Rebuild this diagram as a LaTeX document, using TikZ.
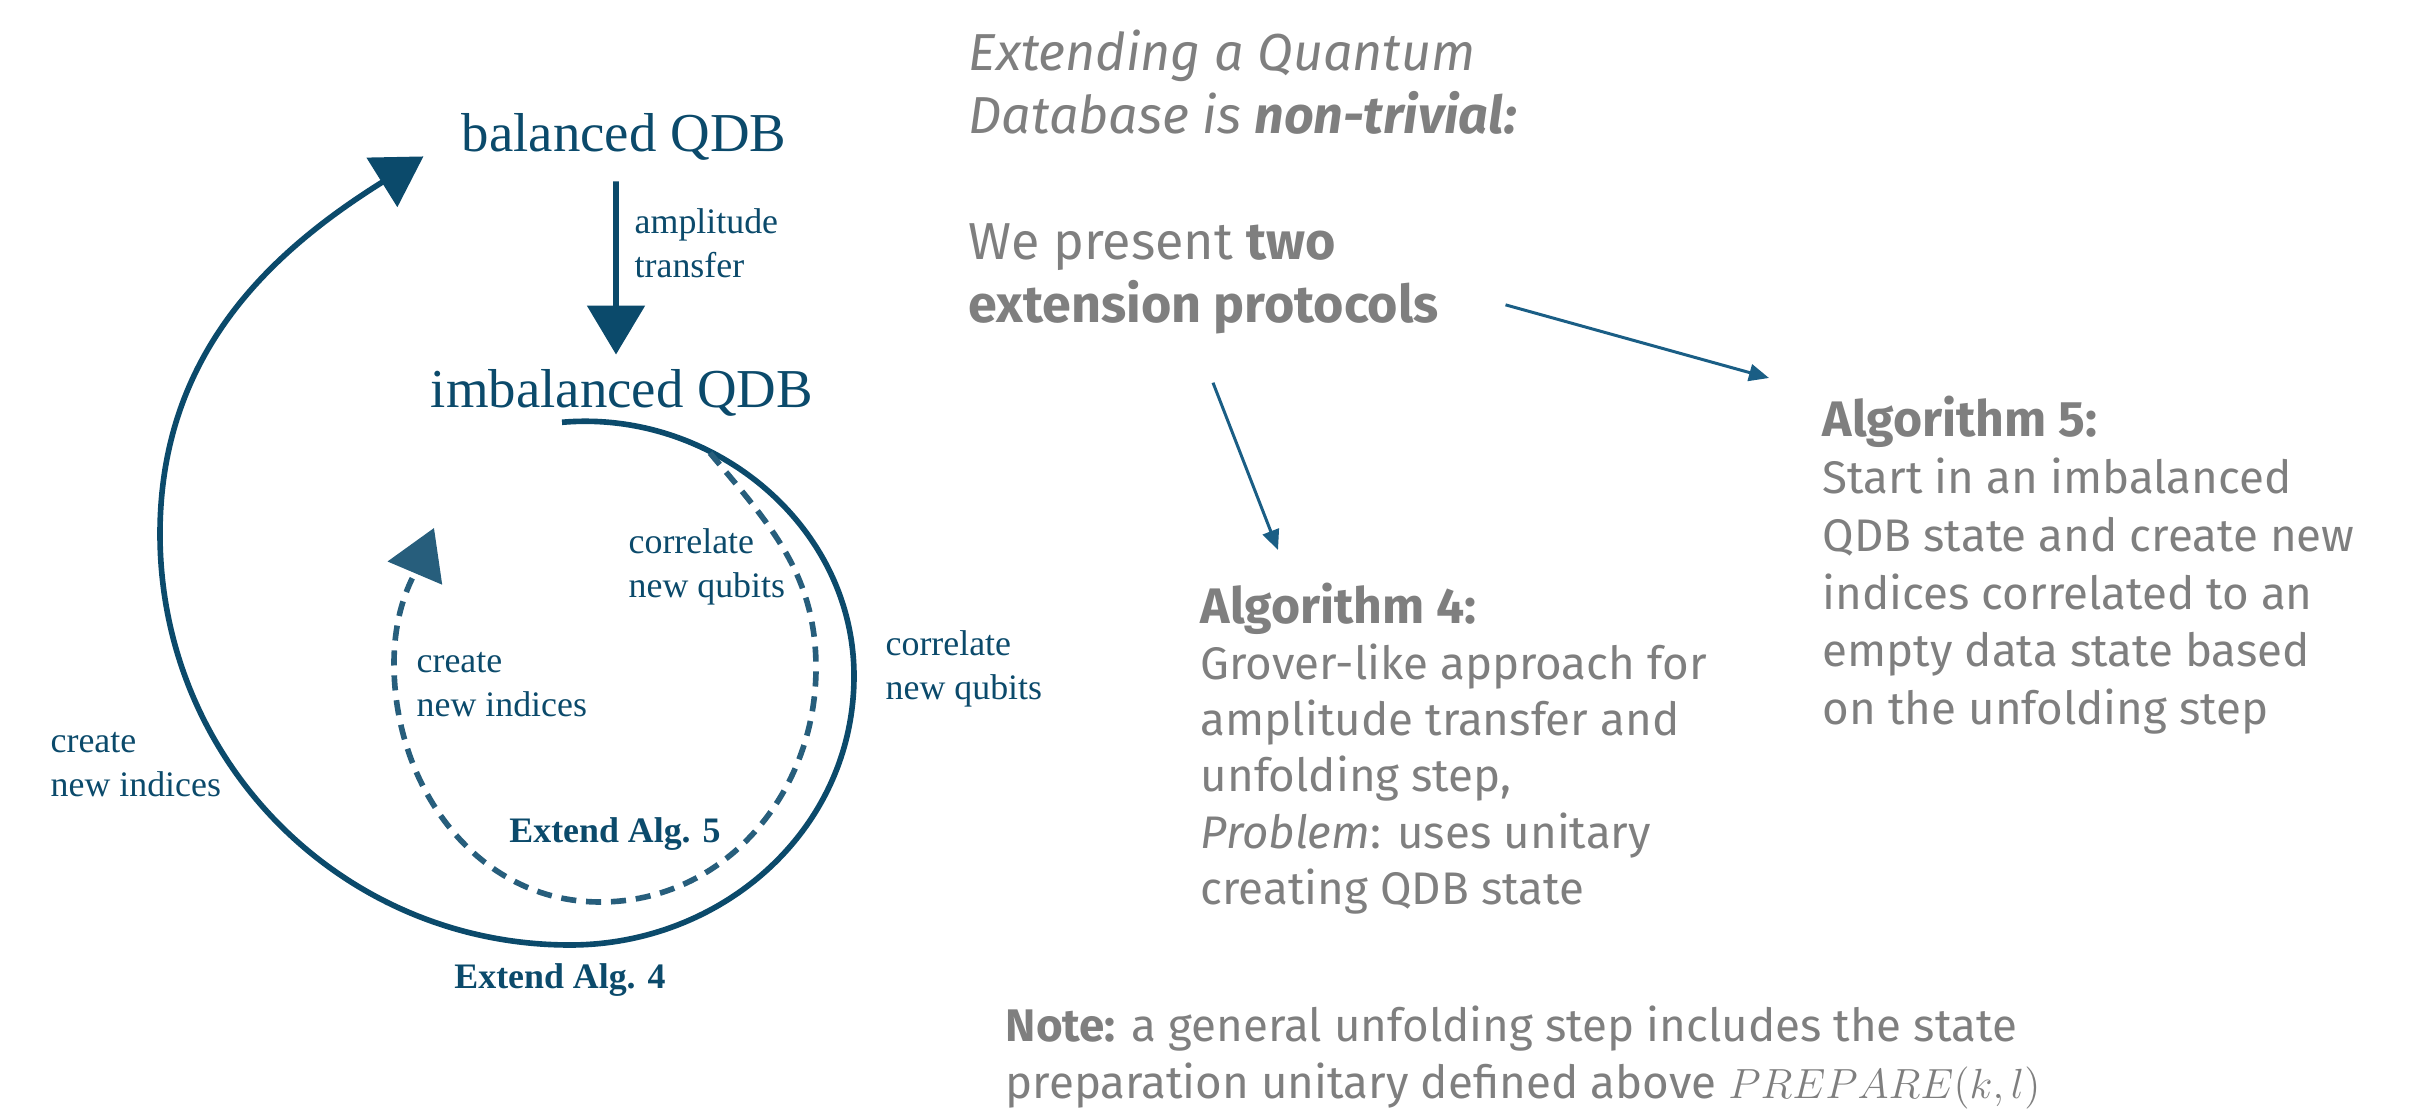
\documentclass[tikz,border=0pt]{standalone}
\usepackage{fontspec}
\setmainfont{Liberation Serif}
\newfontfamily\slidefont{Fira Sans}
\usetikzlibrary{arrows.meta}

\definecolor{qdbteal}{HTML}{0B4A6B}
\definecolor{qdbdash}{HTML}{275E7C}
\definecolor{slidegray}{HTML}{7F7F7F}
\definecolor{ptrblue}{HTML}{1A5E85}

\tikzset{
  qdb/.style={text=qdbteal, font=\fontsize{15.6}{18}\selectfont},
  lbl/.style={text=qdbteal, font=\fontsize{10.2}{12.5}\selectfont, align=left, inner sep=0},
  extend/.style={text=qdbteal, font=\bfseries\fontsize{10.2}{12.5}\selectfont, inner sep=0},
  flow/.style={draw=qdbteal, line width=1.6pt, -{Triangle[length=4.9mm,width=5.7mm]}},
  flowdash/.style={draw=qdbdash, line width=1.6pt, dash pattern=on 4.3pt off 2.8pt, -{Triangle[length=4.9mm,width=5.8mm]}},
  slide/.style={text=slidegray, font=\slidefont\fontsize{13}{16.4}\selectfont, align=left, inner sep=0, anchor=north west},
  bigslide/.style={slide, font=\slidefont\fontsize{14.8}{17.9}\selectfont},
  ptr/.style={draw=ptrblue, line width=0.85pt, -{Triangle[length=2mm,width=1.7mm]}}
}
\newcommand{\algtitle}[1]{{\fontsize{14.2}{16.4}\selectfont\textbf{#1}}}

\begin{document}
\begin{tikzpicture}
\useasboundingbox (0,0) rectangle (24.10,-11.15);
% The two QDB states
\node[qdb, anchor=base] (bal) at (6.24,-1.52) {balanced QDB};
\node[qdb, anchor=base] (imb) at (6.22,-4.08) {imbalanced QDB};
\draw[flow, shorten <=0.8mm, shorten >=0.3mm] ([xshift=-0.8mm]bal.south) -- ([xshift=-0.6mm]imb.north);
\node[lbl, anchor=west] (amp) at (6.34,-2.43) {amplitude\\transfer};
% Extension loop of Alg. 4 (outer, solid)
\draw[flow] ([shift={(-0.60,0.07)}]imb.south) to[out=5,in=90] (8.54,-6.76)
  to[out=-90,in=0] (5.70,-9.45) to[out=180,in=-90] (1.60,-5.34)
  to[out=90,in=212] ([shift={(-0.26,-0.19)}]bal.west);
% Extension loop of Alg. 5 (inner, dashed)
\coordinate (d5s) at (7.10,-4.53);
\coordinate (d5e) at (4.34,-5.28);
\draw[flowdash] (d5s) to[out=-50,in=90] (8.16,-6.68) to[out=-90,in=0] (6.00,-9.02)
  to[out=180,in=-90] (3.94,-6.64) to[out=90,in=247] (d5e);
% Loop labels
\node[lbl, anchor=west] (corin) at (6.28,-5.67) {correlate\\new qubits};
\node[lbl, anchor=west] (corout) at (8.85,-6.69) {correlate\\new qubits};
\node[lbl, anchor=west] (crein) at (4.16,-6.85) {create\\new indices};
\node[lbl, anchor=west] (creout) at (0.50,-7.65) {create\\new indices};
\node[extend] (ext5) at (6.15,-8.34) {Extend Alg. 5};
\node[extend] (ext4) at (5.60,-9.80) {Extend Alg. 4};
% Slide text
\node[bigslide] (head) at (9.68,-0.29)
  {\textit{Extending a Quantum}\\\textit{Database is \textbf{non-trivial:}}};
\node[bigslide] (pres) at (9.68,-2.23)
  {We present \textbf{two}\\\textbf{extension protocols}};
\node[slide, font=\slidefont\fontsize{13}{16.0}\selectfont] (alg4) at (12.00,-5.82)
  {\algtitle{Algorithm 4:}\\Grover-like approach for\\amplitude transfer and\\unfolding step,\\\textit{Problem}: uses unitary\\creating QDB state};
\node[slide] (alg5) at (18.22,-3.95)
  {\algtitle{Algorithm 5:}\\Start in an imbalanced\\QDB state and create new\\indices correlated to an\\empty data state based\\on the unfolding step};
\node[slide] (note) at (10.05,-10.05)
  {\textbf{Note:} a general unfolding step includes the state\\preparation unitary defined above $PREPARE(k,l)$};
% Pointers to the two protocols
\draw[ptr] ([shift={(2.45,-0.48)}]pres.south west) -- ([shift={(0.78,0.32)}]alg4.north west);
\draw[ptr] ([shift={(0.66,-0.26)}]pres.east) -- ([shift={(-0.53,0.17)}]alg5.north west);
\end{tikzpicture}
\end{document}
